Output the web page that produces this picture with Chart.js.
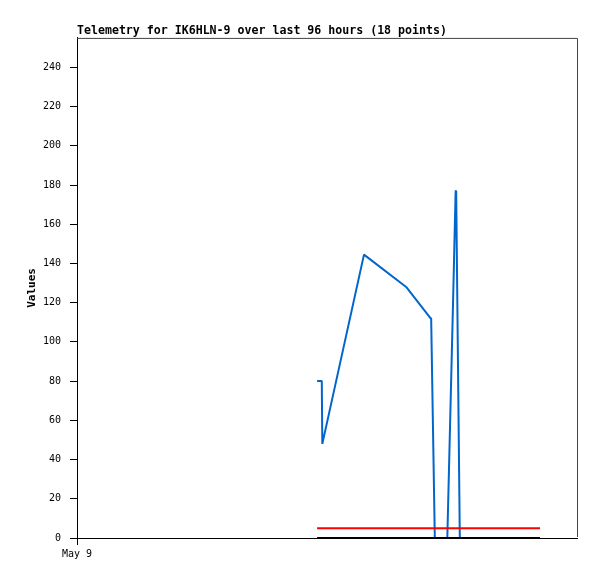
<!DOCTYPE html>
<html>
<head>
<meta charset="utf-8">
<script src="https://cdn.jsdelivr.net/npm/chart.js@4"></script>
<style>
  html, body { margin: 0; padding: 0; background: #fff; }
  #wrap { width: 597px; height: 579px; }
</style>
</head>
<body>
<div id="wrap"><canvas id="telemetry"></canvas></div>
<script>
// hours since May 9 00:00
const blueHours = [46.1, 47.0, 47.1, 55.1, 63.2, 67.9, 68.0, 68.7, 71.1, 72.2, 72.7, 72.8, 73.5, 88.9];
const blueValues = [80, 80, 48, 144.5, 128, 112, 112, 0, 0, 120, 177, 177, 0, 0];
const flatHours = [46.1, 88.9];
const redValues = [5, 5];
const blackValues = [0, 0];
const yTicks = [0, 20, 40, 60, 80, 100, 120, 140, 160, 180, 200, 220, 240];
const xTickLabels = ['May 9'];

const pts = (xs, ys) => xs.map((x, i) => ({ x: x, y: ys[i] }));

// grey frame on top / right of the plot
const framePlugin = {
  id: 'frame',
  beforeDatasetsDraw(chart) {
    const { ctx, chartArea: a } = chart;
    ctx.save();
    ctx.strokeStyle = '#444';
    ctx.lineWidth = 1;
    ctx.beginPath();
    ctx.moveTo(a.left, a.top + 0.5);
    ctx.lineTo(a.right + 0.5, a.top + 0.5);
    ctx.lineTo(a.right + 0.5, a.bottom - 1);
    ctx.stroke();
    ctx.restore();
  }
};

const mono = "'DejaVu Sans Mono', monospace";

new Chart(document.getElementById('telemetry'), {
  type: 'line',
  data: {
    datasets: [
      { label: 'black', data: pts(flatHours, blackValues), borderColor: '#000', borderWidth: 2, pointRadius: 0, order: 0 },
      { label: 'red', data: pts(flatHours, redValues), borderColor: '#ff0000', borderWidth: 2, pointRadius: 0, order: 1 },
      { label: 'blue', data: pts(blueHours, blueValues), borderColor: '#0066cc', borderWidth: 2, borderJoinStyle: 'bevel', pointRadius: 0, order: 2 }
    ]
  },
  plugins: [framePlugin],
  options: {
    responsive: true,
    maintainAspectRatio: false,
    animation: false,
    layout: { padding: { left: 0, right: 20, top: 18, bottom: 0 } },
    plugins: {
      legend: { display: false },
      tooltip: { enabled: false },
      title: {
        display: true,
        text: 'Telemetry for IK6HLN-9 over last 96 hours (18 points)',
        align: 'start',
        fullSize: false,
        color: '#000',
        font: { family: mono, size: 11.6, weight: 'bold' },
        padding: { top: 6, bottom: 0 }
      }
    },
    scales: {
      x: {
        type: 'linear',
        min: 0,
        max: 96,
        afterBuildTicks: (s) => { s.ticks = [{ value: 0 }]; },
        afterFit: (s) => { s.height = 41; },
        ticks: {
          callback: (v, i) => xTickLabels[i],
          color: '#000',
          font: { family: mono, size: 10 },
          padding: 3,
          maxRotation: 0
        },
        grid: { drawOnChartArea: false, drawTicks: true, tickLength: 7, color: '#000' },
        border: { color: '#000', width: 1 }
      },
      y: {
        min: 0,
        max: 255,
        afterBuildTicks: (s) => { s.ticks = yTicks.map(v => ({ value: v })); },
        afterFit: (s) => { s.width = 77; },
        ticks: {
          color: '#000',
          font: { family: mono, size: 10 },
          padding: 9
        },
        grid: { drawOnChartArea: false, drawTicks: true, tickLength: 7, color: '#000' },
        border: { color: '#000', width: 1 },
        title: {
          display: true,
          text: 'Values',
          color: '#000',
          font: { family: mono, size: 11, weight: 'bold' },
          padding: { top: 25.4, bottom: 0 }
        }
      }
    }
  }
});
</script>
</body>
</html>
